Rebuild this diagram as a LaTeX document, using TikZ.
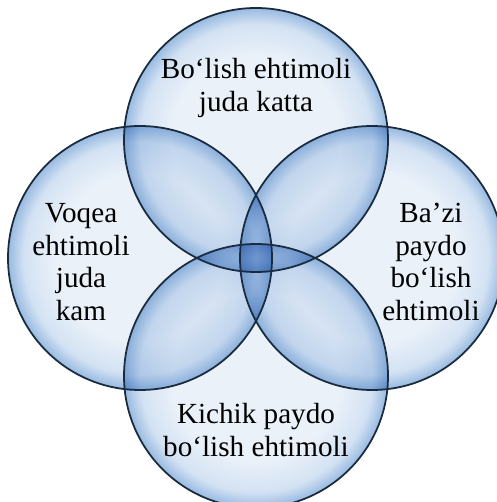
\documentclass[tikz,border=0pt]{standalone}
\usepackage{fontspec}
\setmainfont{Liberation Serif}
\usepackage{tikz}
\usetikzlibrary{positioning,calc}
\definecolor{bubcore}{HTML}{EAF1F9}
\definecolor{bubmid}{HTML}{D3E2F3}
\definecolor{bubrim}{HTML}{98BAE1}
\definecolor{bubline}{HTML}{1A2B3D}
\pgfdeclareradialshading{bubble}{\pgfpoint{0bp}{0bp}}{color(0bp)=(bubcore); color(16bp)=(bubcore); color(22bp)=(bubmid); color(25bp)=(bubrim); color(50bp)=(bubrim)}

\begin{document}
\begin{tikzpicture}[x=0.02cm, y=-0.02cm,
      every node/.style={font=\fontsize{16.6}{18.6}\selectfont},
      bubble/.style={circle,minimum size=5.28cm,inner sep=0pt},
      bubfill/.style={shading=bubble,blend mode=multiply},
      rimline/.style={draw=bubline,line width=1pt},
      label/.style={align=center,text=black}]
      \useasboundingbox (0,0) rectangle (496,502);
      \fill[white] (0,0) rectangle (496,502);
      \node[bubble] (top) at (256,140) {};
      \node[bubble] (left) at (140,258) {};
      \node[bubble] (right) at (372,258) {};
      \node[bubble] (bottom) at (256,376) {};
      \foreach \c in {top,left,right,bottom}
        \shade[bubfill] (\c.center) circle[radius=132];
      \foreach \c in {top,left,right,bottom}
        \draw[rimline] (\c.center) circle[radius=132];
      \node[label] (topt) at ($(top.center)+(0,-52)$) {Bo‘lish ehtimoli\\juda katta};
      \node[label,text width=3cm] (leftt) at ($(left.center)+(-59,4)$) {Voqea\\ehtimoli\\juda\\kam};
      \node[label,text width=3cm] (rightt) at ($(right.center)+(59,4)$) {Ba’zi\\paydo\\bo‘lish\\ehtimoli};
      \node[label] (bottomt) at ($(bottom.center)+(0,54)$) {Kichik paydo\\bo‘lish ehtimoli};
    \end{tikzpicture}
\end{document}
